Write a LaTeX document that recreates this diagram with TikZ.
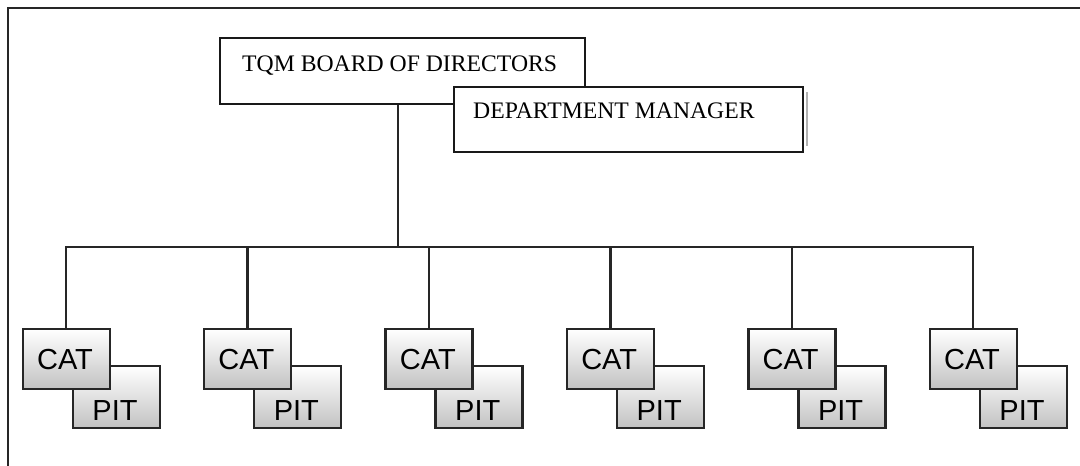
\documentclass[tikz,border=0pt]{standalone}
\usepackage{fontspec}
\setmainfont{Liberation Serif}
\newfontfamily\teamsans{Liberation Sans}
\begin{document}
\begin{tikzpicture}[x=1pt,y=-1pt,
  frameline/.style={draw=black!85, line width=2.6pt},
  titlebox/.style={draw=black!90, line width=2.3pt, fill=white, anchor=north west, inner sep=0pt},
  wire/.style={draw=black!85, line width=2.4pt},
  teambox/.style={draw=black!85, line width=2.4pt, top color=white, middle color=black!4, bottom color=black!24,
    anchor=north west, minimum width=87pt, minimum height=60pt, inner sep=0pt},
  seriflabel/.style={font=\fontsize{23.7}{26}\selectfont, anchor=base west, inner sep=0pt},
  teamlabel/.style={font=\teamsans\fontsize{29}{32}\selectfont, anchor=base, inner sep=0pt}
]
\useasboundingbox (0,0) rectangle (1080,466);

% outer frame (top and left edges)
\draw[frameline] (8,466) -- (8,8) -- (1080,8);

% board and manager boxes
\node[titlebox, minimum width=365pt, minimum height=66pt] (tqm) at (219,37) {};
\draw[black!30, line width=2pt] (807,92) -- (807,146);
\node[titlebox, minimum width=349pt, minimum height=65pt] (dept) at (453,86) {};
\node[seriflabel] (tqmtext) at (242,71) {TQM BOARD OF DIRECTORS};
\node[seriflabel] (depttext) at (473,118) {DEPARTMENT MANAGER};

% team boxes: PIT behind CAT
\foreach \i in {1,...,6} {
  \pgfmathsetmacro\cx{65+181.4*(\i-1)}
  \node[teambox, minimum height=62pt] (pit\i) at (\cx+6.5,365) {};
  \node[teambox] (cat\i) at (\cx-43.5,328) {};
  \node[teamlabel] (pittext\i) at (\cx+50,420) {PIT};
  \node[teamlabel] (cattext\i) at (\cx,369) {CAT};
}

% connectors
\coordinate (bus) at (398,247);
\draw[wire] (tqm.south -| bus) -- (bus);
\draw[wire] (cat1.north) -- (cat1.north |- bus) -- (cat6.north |- bus) -- (cat6.north);
\foreach \i in {2,...,5} \draw[wire] (cat\i.north |- bus) -- (cat\i.north);
\end{tikzpicture}
\end{document}
